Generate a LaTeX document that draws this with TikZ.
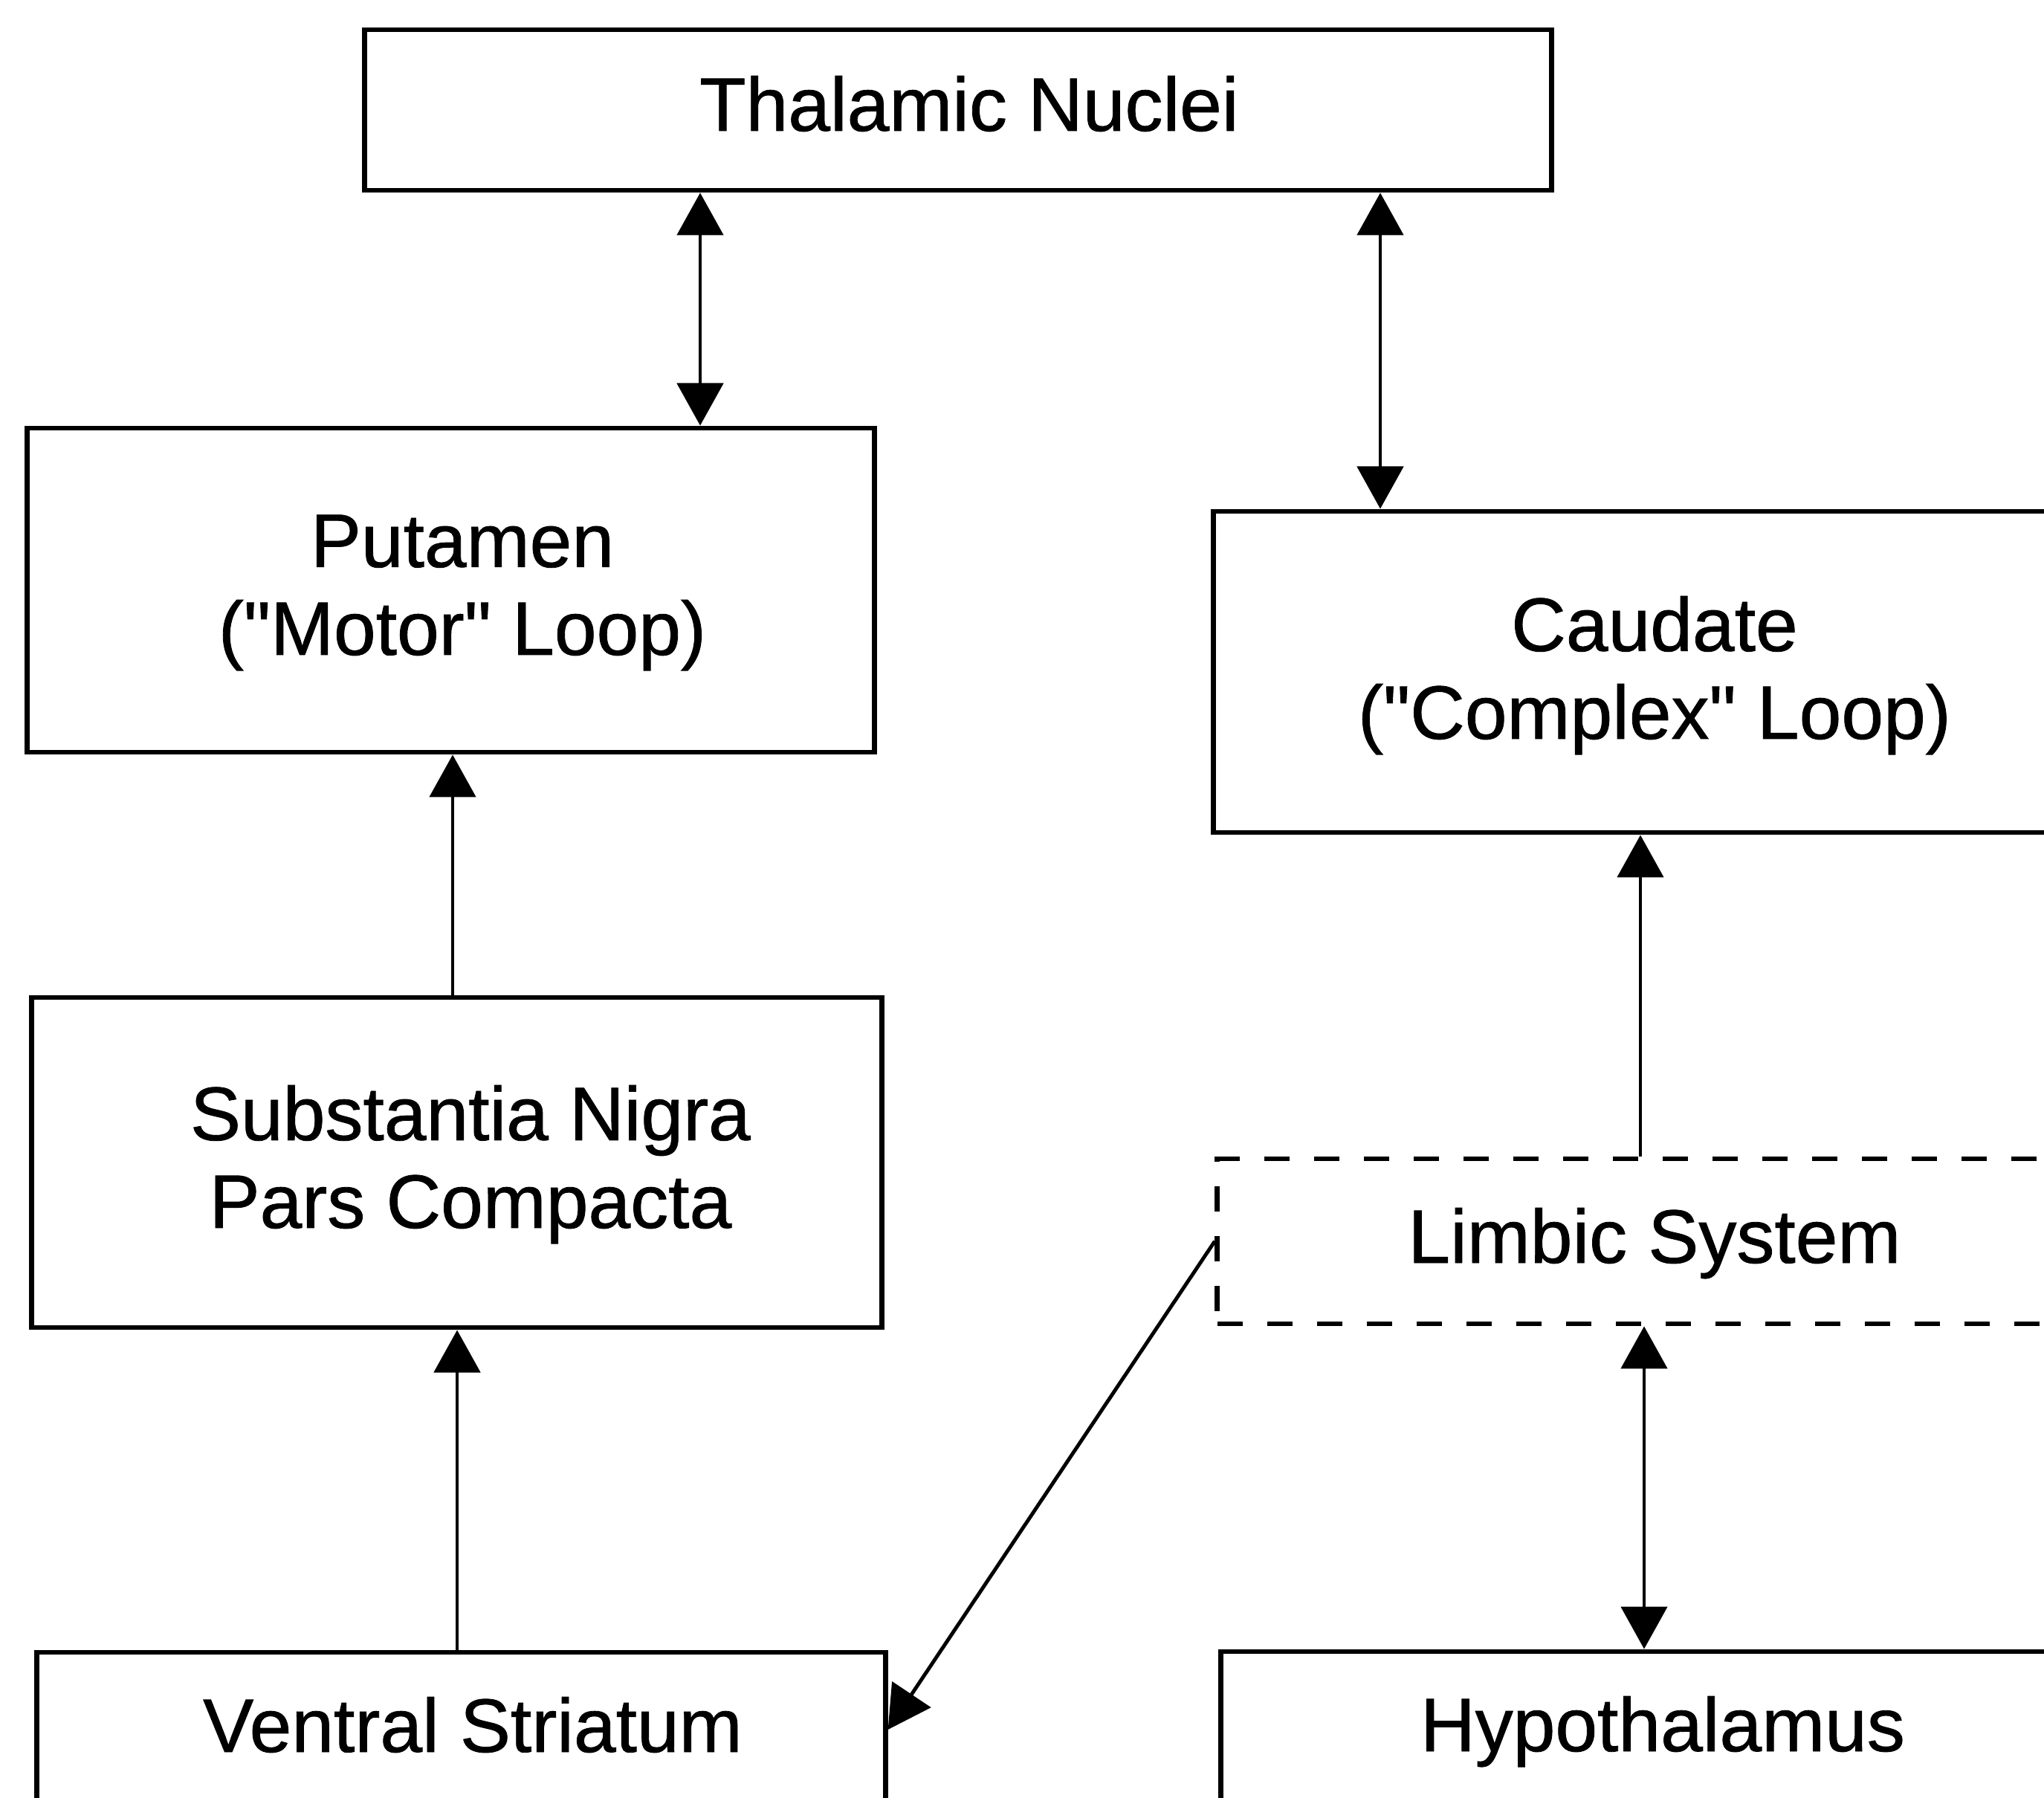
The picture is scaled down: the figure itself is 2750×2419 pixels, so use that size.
\documentclass[tikz,border=0pt]{standalone}
\usepackage{fontspec}
\setmainfont{Liberation Sans}[Ligatures=TeXOff, FakeBold=0.8]
\usetikzlibrary{arrows.meta}

\begin{document}
\begin{tikzpicture}[x=0.01cm, y=-0.01cm,
  box/.style={draw, line width=1.9pt, fill=white, inner sep=0pt},
  dashbox/.style={box, dash pattern=on 0.34cm off 0.33cm},
  lbl/.style={anchor=base, align=center, inner sep=0pt,
              font=\fontsize{29}{33.6}\selectfont},
  tip/.tip={Triangle[length=0.57cm, width=0.62cm]},
  link/.style={line width=1.4pt, -tip},
  twoway/.style={line width=1.4pt, tip-tip}]

% page frame
\path[use as bounding box] (0,0) rectangle (2750,2419);
\clip (0,0) rectangle (2750,2419);

% boxes
\node[box, minimum width=15.96cm, minimum height=2.16cm] (thal) at (1289,148) {};
\node[box, minimum width=11.39cm, minimum height=4.36cm] (put)  at (606.5,794) {};
\node[box, minimum width=11.82cm, minimum height=4.32cm] (cau)  at (2224,904) {};
\node[box, minimum width=11.43cm, minimum height=4.44cm] (snc)  at (614.5,1564) {};
\node[dashbox, minimum width=11.77cm, minimum height=2.22cm] (lim) at (2226.5,1670) {};
\node[box, minimum width=11.41cm, minimum height=4.40cm] (vs)   at (620.5,2443) {};
\node[box, minimum width=11.87cm, minimum height=4.40cm] (hyp)  at (2236.5,2442) {};

% labels (multi-line labels sit on the baseline of their last line)
\node[lbl] (thalT) at (1304,176)  {Thalamic Nuclei};
\node[lbl] (putT)  at (622,881)   {Putamen\\("Motor" Loop)};
\node[lbl] (cauT)  at (2226,994)  {Caudate\\("Complex" Loop)};
\node[lbl] (sncT)  at (633,1652)  {Substantia Nigra\\Pars Compacta};
\node[lbl] (limT)  at (2226,1699) {Limbic System};
\node[lbl] (vsT)   at (636,2357)  {Ventral Striatum};
\node[lbl] (hypT)  at (2237,2356) {Hypothalamus};

% connector positions
\coordinate (xa) at (942,0);
\coordinate (xb) at (1857,0);
\coordinate (xc) at (609,0);
\coordinate (xd) at (615,0);
\coordinate (xe) at (2207,0);
\coordinate (xf) at (2212,0);
\coordinate (yv) at (0,2327);

% connectors
\draw[twoway] (thal.south -| xa) -- (put.north -| xa);
\draw[twoway] (thal.south -| xb) -- (cau.north -| xb);
\draw[link] (snc.north -| xc) -- (put.south -| xc);
\draw[link] (vs.north -| xd) -- (snc.south -| xd);
\draw[link] (lim.north -| xe) -- (cau.south -| xe);
\draw[twoway] (lim.south -| xf) -- (hyp.north -| xf);
\draw[link] (lim.west) -- (vs.east |- yv);

\end{tikzpicture}
\end{document}
